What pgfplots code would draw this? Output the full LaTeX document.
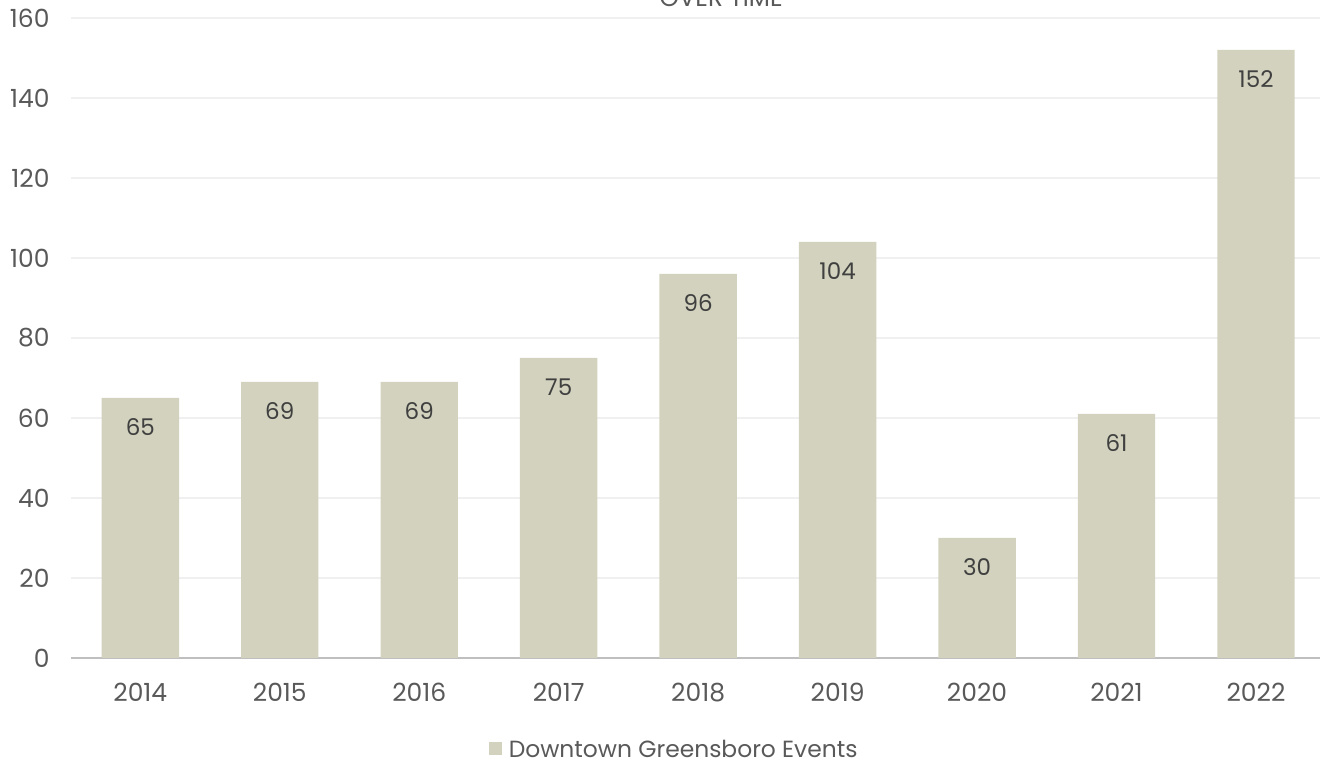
\documentclass[border=0pt]{standalone}
\usepackage{pgfplots}
\pgfplotsset{compat=1.18}
\usepackage{fontspec}
\setmainfont{Poppins}
\definecolor{barc}{HTML}{D2D2BE}
\definecolor{gridc}{HTML}{F0F0F0}
\definecolor{axc}{HTML}{BFBFBF}
\definecolor{tickc}{HTML}{595959}
\definecolor{labc}{HTML}{404040}
\begin{document}
\begin{tikzpicture}
\begin{axis}[
  name=ax,
  scale only axis,
  width=627.6pt, height=320pt,
  ybar, bar width=38.7pt,
  xmin=-0.5, xmax=8.5, ymin=0, ymax=160,
  xtick=data,
  xticklabels={2014,2015,2016,2017,2018,2019,2020,2021,2022},
  ytick={0,20,...,160},
  /pgf/number format/assume math mode=true,
  tick label style={font=\fontsize{12.5}{14}\selectfont, text=tickc},
  major tick length=0pt,
  ymajorgrids, grid style={draw=gridc, line width=0.6pt},
  axis y line*=left,
  y axis line style={draw=none},
  axis x line*=bottom,
  x axis line style={draw=axc, line width=1pt, -},
  xticklabel style={yshift=-9pt},
  yticklabel style={xshift=-7pt},
  nodes near coords,
  every node near coord/.append style={anchor=center, yshift=-14.5pt, font=\fontsize{11.5}{13}\selectfont, text=labc},
  clip=false,
]
\addplot[fill=barc, draw=none] coordinates {(0,65) (1,69) (2,69) (3,75) (4,96) (5,104) (6,30) (7,61) (8,152)};
\end{axis}
\node[anchor=base, font=\fontsize{12.3}{15}\selectfont, text=tickc] at ([xshift=11.5pt,yshift=5.5pt]ax.north) {OVER TIME};
\node[font=\fontsize{11.7}{13}\selectfont, text=tickc, anchor=center, inner sep=0pt] (lg) at ([xshift=-7.5pt,yshift=-45.5pt]ax.south) {Downtown Greensboro Events};
\fill[barc] ([xshift=-3pt]lg.west) ++(-6.5pt,-3.25pt) rectangle ++(6.5pt,6.5pt);
\pgfresetboundingbox
\path ([xshift=-35.3pt,yshift=-51.5pt]ax.south west) rectangle ([xshift=-2.85pt,yshift=9pt]ax.north east);
\end{tikzpicture}
\end{document}
